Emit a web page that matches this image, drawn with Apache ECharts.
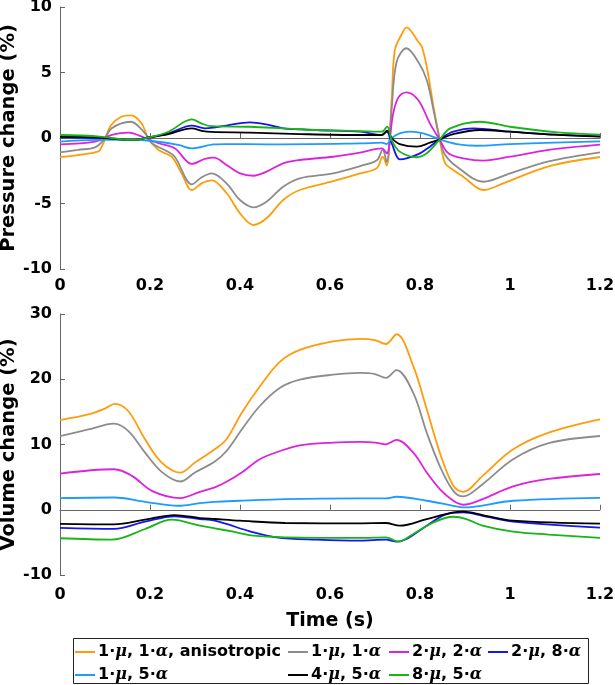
<!DOCTYPE html>
<html>
<head>
<meta charset="utf-8">
<script src="https://cdn.jsdelivr.net/npm/echarts@6/dist/echarts.min.js"></script>
<style>
html,body{margin:0;padding:0;background:#fff;}
#chart{width:615px;height:685px;}
</style>
</head>
<body>
<div id="chart"></div>
<script>
// ---- Data ----
const seriesNames = ['1·μ, 1·α, anisotropic', '1·μ, 1·α', '2·μ, 2·α', '2·μ, 8·α', '1·μ, 5·α', '4·μ, 5·α', '8·μ, 5·α'];
const seriesColors = ['#FF9C0A', '#8C8C8C', '#DD22DD', '#1515F0', '#1E9BFF', '#000000', '#18B418'];
const xTicks = [0, 0.2, 0.4, 0.6, 0.8, 1, 1.2];
const pressureTicks = [-10, -5, 0, 5, 10];
const volumeTicks = [-10, 0, 10, 20, 30];

// Pressure change (%) : [time s, value]
const pOrange = [[0,-1.45],[0.04,-1.3],[0.078,-1.09],[0.088,-0.95],[0.1,-0.1],[0.113,0.95],[0.135,1.6],[0.158,1.72],[0.181,1.12],[0.196,0],[0.219,-0.92],[0.248,-1.43],[0.27,-2.7],[0.293,-3.97],[0.315,-3.46],[0.337,-3.24],[0.37,-4.2],[0.4,-5.75],[0.43,-6.64],[0.459,-6.13],[0.496,-4.73],[0.533,-3.97],[0.607,-3.3],[0.667,-2.7],[0.704,-2.3],[0.717,-1.43],[0.726,-2.1],[0.737,2.9],[0.744,6.7],[0.759,7.9],[0.77,8.45],[0.796,7.35],[0.804,6.97],[0.815,5.45],[0.83,2.4],[0.844,-0.15],[0.856,-1.93],[0.874,-2.44],[0.896,-2.95],[0.941,-3.97],[0.985,-3.46],[1.086,-2.16],[1.2,-1.45]];
const pGray = [[0,-1.09],[0.04,-0.9],[0.078,-0.71],[0.097,-0.15],[0.115,0.74],[0.157,1.24],[0.189,0.36],[0.204,-0.4],[0.233,-0.92],[0.255,-1.43],[0.293,-3.54],[0.315,-3.0],[0.337,-2.7],[0.37,-3.46],[0.4,-4.73],[0.43,-5.29],[0.459,-4.86],[0.496,-3.72],[0.533,-3.08],[0.607,-2.7],[0.667,-2.14],[0.704,-1.7],[0.717,-0.9],[0.726,-1.83],[0.737,2.2],[0.748,5.8],[0.77,6.85],[0.796,5.82],[0.815,4.43],[0.83,2.14],[0.844,-0.1],[0.856,-1.3],[0.882,-2.19],[0.941,-3.34],[1.0,-2.7],[1.086,-1.78],[1.2,-1.09]];
const pMagenta = [[0,-0.48],[0.078,-0.28],[0.115,0.23],[0.152,0.41],[0.189,0],[0.219,-0.4],[0.255,-0.79],[0.293,-1.98],[0.322,-1.6],[0.342,-1.5],[0.37,-2.06],[0.4,-2.7],[0.43,-2.88],[0.459,-2.57],[0.496,-1.93],[0.533,-1.68],[0.607,-1.43],[0.667,-1.12],[0.715,-0.79],[0.726,-1.17],[0.74,1.8],[0.752,3.1],[0.77,3.49],[0.796,2.9],[0.822,1.12],[0.844,-0.15],[0.863,-1.17],[0.896,-1.55],[0.941,-1.73],[1.0,-1.43],[1.086,-0.9],[1.2,-0.5]];
const pBlue = [[0,0.05],[0.078,0.0],[0.16,-0.15],[0.196,0.04],[0.241,0.36],[0.293,0.95],[0.322,0.74],[0.342,0.8],[0.37,0.95],[0.422,1.2],[0.459,1.04],[0.496,0.74],[0.57,0.61],[0.667,0.48],[0.715,0.23],[0.726,0.48],[0.737,-0.4],[0.755,-1.63],[0.77,-1.56],[0.8,-1.17],[0.822,-0.66],[0.844,-0.1],[0.874,0.48],[0.919,0.74],[1.0,0.48],[1.1,0.25],[1.2,0.13]];
const pLightBlue = [[0,-0.28],[0.078,-0.15],[0.15,-0.12],[0.204,-0.23],[0.263,-0.53],[0.293,-0.79],[0.342,-0.48],[0.37,-0.46],[0.459,-0.48],[0.667,-0.41],[0.715,-0.36],[0.726,-0.46],[0.737,0],[0.755,0.36],[0.778,0.48],[0.807,0.36],[0.844,-0.1],[0.882,-0.46],[0.926,-0.59],[1.0,-0.46],[1.2,-0.25]];
const pBlack = [[0,0.1],[0.078,0.05],[0.16,-0.15],[0.196,0.03],[0.241,0.3],[0.293,0.74],[0.315,0.55],[0.337,0.46],[0.422,0.41],[0.533,0.3],[0.667,0.23],[0.715,0.23],[0.727,0.56],[0.737,0],[0.755,-0.46],[0.793,-0.66],[0.822,-0.36],[0.844,-0.1],[0.874,0.3],[0.933,0.61],[1.0,0.48],[1.1,0.25],[1.2,0.1]];
const pGreen = [[0,0.23],[0.078,0.15],[0.115,0],[0.16,-0.15],[0.196,0.03],[0.241,0.48],[0.293,1.42],[0.315,1.1],[0.337,0.9],[0.422,0.86],[0.496,0.74],[0.57,0.61],[0.667,0.53],[0.715,0.48],[0.727,0.87],[0.737,-0.15],[0.755,-1.04],[0.793,-1.47],[0.815,-1.17],[0.844,-0.1],[0.867,0.74],[0.933,1.24],[1.0,0.86],[1.1,0.45],[1.2,0.25]];

// Volume change (%) : [time s, value]
const vOrange = [[0,13.74],[0.063,14.6],[0.1,15.5],[0.122,16.24],[0.152,15.1],[0.189,10.8],[0.226,7.23],[0.267,5.7],[0.3,7.23],[0.344,9.27],[0.37,10.8],[0.404,14.87],[0.444,18.9],[0.489,22.7],[0.533,24.5],[0.607,25.8],[0.667,26.2],[0.7,26.0],[0.724,25.4],[0.748,26.9],[0.785,22.0],[0.815,15.4],[0.844,8.76],[0.874,3.67],[0.896,2.75],[0.939,5.2],[1.007,9.27],[1.086,11.83],[1.2,13.86]];
const vGray = [[0,11.3],[0.063,12.3],[0.12,13.2],[0.152,12.06],[0.189,8.76],[0.226,5.8],[0.267,4.33],[0.3,5.7],[0.344,7.39],[0.37,9.0],[0.404,12.3],[0.444,15.9],[0.489,18.7],[0.533,19.95],[0.607,20.7],[0.667,20.97],[0.7,20.8],[0.724,20.2],[0.748,21.4],[0.785,17.9],[0.815,11.8],[0.844,6.7],[0.874,2.9],[0.896,2.04],[0.939,3.92],[1.007,7.74],[1.086,10.2],[1.2,11.3]];
const vMagenta = [[0,5.55],[0.12,6.21],[0.16,5.19],[0.204,2.9],[0.267,1.79],[0.311,2.75],[0.344,3.42],[0.37,4.28],[0.404,5.7],[0.444,7.74],[0.489,9.0],[0.533,9.88],[0.607,10.3],[0.667,10.4],[0.7,10.3],[0.724,10.03],[0.748,10.7],[0.785,8.76],[0.815,5.7],[0.844,3.16],[0.874,1.38],[0.896,0.77],[0.939,1.63],[1.007,3.57],[1.086,4.72],[1.2,5.48]];
const vBlue = [[0,-2.79],[0.12,-2.94],[0.189,-1.83],[0.255,-1.01],[0.311,-1.42],[0.344,-1.68],[0.37,-2.18],[0.422,-3.3],[0.481,-4.22],[0.57,-4.58],[0.667,-4.73],[0.724,-4.58],[0.748,-4.88],[0.77,-4.48],[0.815,-2.44],[0.859,-0.66],[0.896,-0.41],[0.939,-0.92],[1.007,-1.83],[1.2,-2.74]];
const vLightBlue = [[0,1.79],[0.12,1.88],[0.189,1.22],[0.263,0.61],[0.311,1.02],[0.344,1.22],[0.4,1.38],[0.5,1.63],[0.667,1.74],[0.724,1.74],[0.748,1.99],[0.815,1.38],[0.874,0.61],[0.896,0.36],[1.007,1.38],[1.2,1.83]];
const vBlack = [[0,-2.18],[0.12,-2.25],[0.189,-1.52],[0.255,-0.81],[0.311,-1.27],[0.344,-1.42],[0.4,-1.68],[0.5,-2.03],[0.667,-2.08],[0.724,-2.03],[0.755,-2.44],[0.815,-1.42],[0.874,-0.4],[0.896,-0.3],[0.939,-0.81],[1.007,-1.68],[1.2,-2.13]];
const vGreen = [[0,-4.37],[0.115,-4.58],[0.189,-2.95],[0.248,-1.52],[0.311,-2.44],[0.344,-2.85],[0.385,-3.36],[0.43,-3.97],[0.5,-4.22],[0.667,-4.32],[0.724,-4.22],[0.752,-4.88],[0.785,-3.71],[0.83,-1.93],[0.874,-1.07],[0.903,-1.42],[0.939,-2.44],[1.007,-3.36],[1.086,-3.8],[1.2,-4.31]];

const pressureData = [pOrange, pGray, pMagenta, pBlue, pLightBlue, pBlack, pGreen];
const volumeData = [vOrange, vGray, vMagenta, vBlue, vLightBlue, vBlack, vGreen];

// ---- Chart ----
const FONT = 'DejaVu Sans';
const chart = echarts.init(document.getElementById('chart'), null, {renderer: 'canvas'});

function xAxisCfg(gridIndex, margin, withName) {
  return {
    gridIndex: gridIndex, type: 'value', min: xTicks[0], max: xTicks[xTicks.length - 1], interval: 0.2,
    axisLine: {show: true, lineStyle: {color: '#666', width: 1}},
    axisTick: {show: true, inside: true, length: 5, lineStyle: {color: '#666'}},
    splitLine: {show: false},
    axisLabel: {margin: margin, color: '#000', fontFamily: FONT, fontWeight: 'bold', fontSize: 16,
      formatter: v => String(+v.toFixed(1))},
    name: withName ? 'Time (s)' : '', nameLocation: 'middle', nameGap: 37, nameMoveOverlap: false,
    nameTextStyle: {color: '#000', fontFamily: FONT, fontWeight: 'bold', fontSize: 19}
  };
}
function yAxisCfg(gridIndex, ticks, name) {
  return {
    gridIndex: gridIndex, type: 'value', min: ticks[0], max: ticks[ticks.length - 1], interval: ticks[1] - ticks[0],
    axisLine: {show: true, lineStyle: {color: '#666', width: 1}},
    axisTick: {show: true, inside: true, length: 5, lineStyle: {color: '#666'}},
    splitLine: {show: false},
    axisLabel: {margin: 8, color: '#000', fontFamily: FONT, fontWeight: 'bold', fontSize: 16},
    name: name, nameLocation: 'middle', nameGap: 41, nameMoveOverlap: false,
    nameTextStyle: {color: '#000', fontFamily: FONT, fontWeight: 'bold', fontSize: 19.5}
  };
}

const series = [];
seriesNames.forEach((nm, i) => {
  series.push({name: nm, type: 'line', xAxisIndex: 0, yAxisIndex: 0, data: pressureData[i],
    symbol: 'none', smooth: 0.35, lineStyle: {color: seriesColors[i], width: 1.8},
    itemStyle: {color: seriesColors[i]}, z: 2 + i});
  series.push({name: nm, type: 'line', xAxisIndex: 1, yAxisIndex: 1, data: volumeData[i],
    symbol: 'none', smooth: 0.35, lineStyle: {color: seriesColors[i], width: 1.8},
    itemStyle: {color: seriesColors[i]}, z: 2 + i});
});

// legend placement (column, row) per series
const legendPos = [[75, 643], [288, 643], [389, 643], [488, 643], [75, 666], [288, 666], [389, 666]];
const legends = seriesNames.map((nm, i) => ({
  data: [{name: nm, icon: 'rect', itemStyle: {color: seriesColors[i]}}],
  left: legendPos[i][0], top: legendPos[i][1], orient: 'horizontal', padding: 0,
  itemWidth: 20, itemHeight: 2, itemGap: 0, selectedMode: false,
  formatter: n => n.replace(/μ/g, '{i|μ}').replace(/α/g, '{i|α}'),
  textStyle: {color: '#000', fontFamily: FONT, fontWeight: 'bold', fontSize: 16, lineHeight: 18, padding: [0, 0, 0, -2],
    rich: {i: {fontFamily: 'DejaVu Serif', fontStyle: 'italic', fontWeight: 'bold', fontSize: 16, lineHeight: 18, color: '#000'}}}
}));

chart.setOption({
  animation: false,
  backgroundColor: '#fff',
  grid: [
    {left: 60, width: 540, top: 7, height: 262, outerBoundsMode: 'none', containLabel: false},
    {left: 60, width: 540, top: 314, height: 261, outerBoundsMode: 'none', containLabel: false}
  ],
  xAxis: [xAxisCfg(0, 9, false), xAxisCfg(1, 12, true)],
  yAxis: [yAxisCfg(0, pressureTicks, 'Pressure change (%)'), yAxisCfg(1, volumeTicks, 'Volume change (%)')],
  legend: legends,
  graphic: [{type: 'rect', shape: {x: 73.5, y: 638.5, width: 515, height: 45}, style: {fill: 'none', stroke: '#222', lineWidth: 1}, z: 100}],
  series: series
});
</script>
</body>
</html>
